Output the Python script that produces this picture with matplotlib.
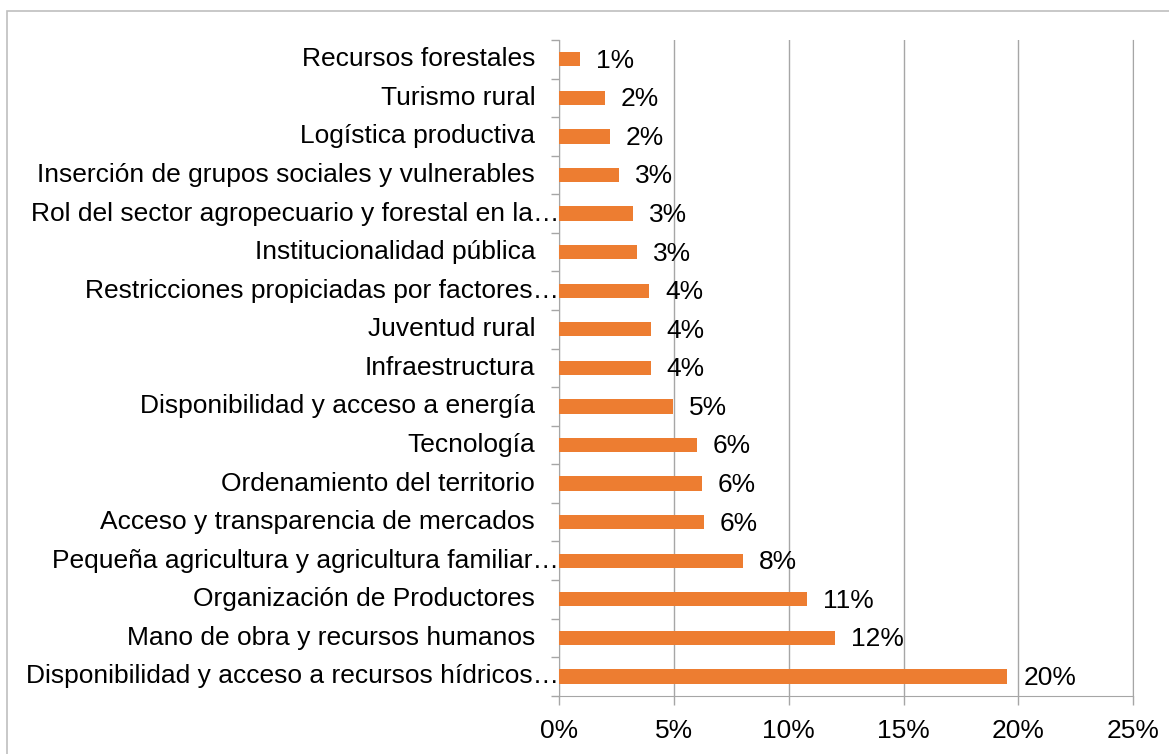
import numpy as np
import matplotlib.pyplot as plt
import matplotlib.transforms as mtransforms
from matplotlib.patches import Rectangle

plt.rcParams['font.family'] = ['Liberation Sans', 'DejaVu Sans']

# top to bottom, as in the chart
categories = [
    "Recursos forestales",
    "Turismo rural",
    "Logística productiva",
    "Inserción de grupos sociales y vulnerables",
    "Rol del sector agropecuario y forestal en la…",
    "Institucionalidad pública",
    "Restricciones propiciadas por factores…",
    "Juventud rural",
    "Infraestructura",
    "Disponibilidad y acceso a energía",
    "Tecnología",
    "Ordenamiento del territorio",
    "Acceso y transparencia de mercados",
    "Pequeña agricultura y agricultura familiar…",
    "Organización de Productores",
    "Mano de obra y recursos humanos",
    "Disponibilidad y acceso a recursos hídricos…",
]
values = [0.90, 1.99, 2.21, 2.60, 3.20, 3.40, 3.91, 3.99, 3.99, 4.97,
          6.00, 6.20, 6.30, 8.00, 10.80, 12.01, 19.51]
xticks = [0, 5, 10, 15, 20, 25]

orange = "#ED7D31"
gray = "#A6A6A6"
fs = 19

fig = plt.figure(figsize=(11.69, 7.54), dpi=100)

# outer chart border
fig.patches.append(Rectangle((0.006, -0.05), 1.1, 1.0354, transform=fig.transFigure,
                             fill=False, edgecolor="#BFBFBF", linewidth=1.2))

ax = fig.add_axes([0.4784, 0.0773, 0.4910, 0.8696])
y = np.arange(len(categories))
ax.barh(y, values, height=0.37, color=orange, zorder=3)

for yi, v in zip(y, values):
    ax.annotate(f"{v:.0f}%", xy=(v, yi), xytext=(11.5, -1), textcoords="offset points",
                va="center", ha="left", fontsize=fs, color="black", zorder=4)

# category labels (truncated ones run up to the axis, like the original)
base = mtransforms.blended_transform_factory(ax.transAxes, ax.transData)
for yi, lab in zip(y, categories):
    dx = 0.0 if lab.endswith("…") else -0.24
    tr = base + mtransforms.ScaledTranslation(dx, 0, fig.dpi_scale_trans)
    ax.text(0, yi, lab, transform=tr, ha="right", va="center", fontsize=fs,
            color="black", clip_on=False)

ax.set_xlim(0, 25)
ax.set_ylim(len(categories) - 0.5, -0.5)
ax.set_xticks(xticks)
ax.set_xticklabels([f"{t}%" for t in xticks], fontsize=fs)
ax.set_yticks([])
ax.set_yticks(np.arange(len(categories) + 1) - 0.5, minor=True)
ax.tick_params(axis="y", which="minor", length=5.5, color=gray, width=1)
ax.tick_params(axis="x", length=6.5, color=gray, width=1, pad=10)

ax.xaxis.grid(True, color=gray, linewidth=1)
ax.set_axisbelow(True)
ax.spines["top"].set_visible(False)
ax.spines["right"].set_color(gray)
ax.spines["left"].set_color(gray)
ax.spines["bottom"].set_color(gray)

fig.savefig("out.png", dpi=100)
